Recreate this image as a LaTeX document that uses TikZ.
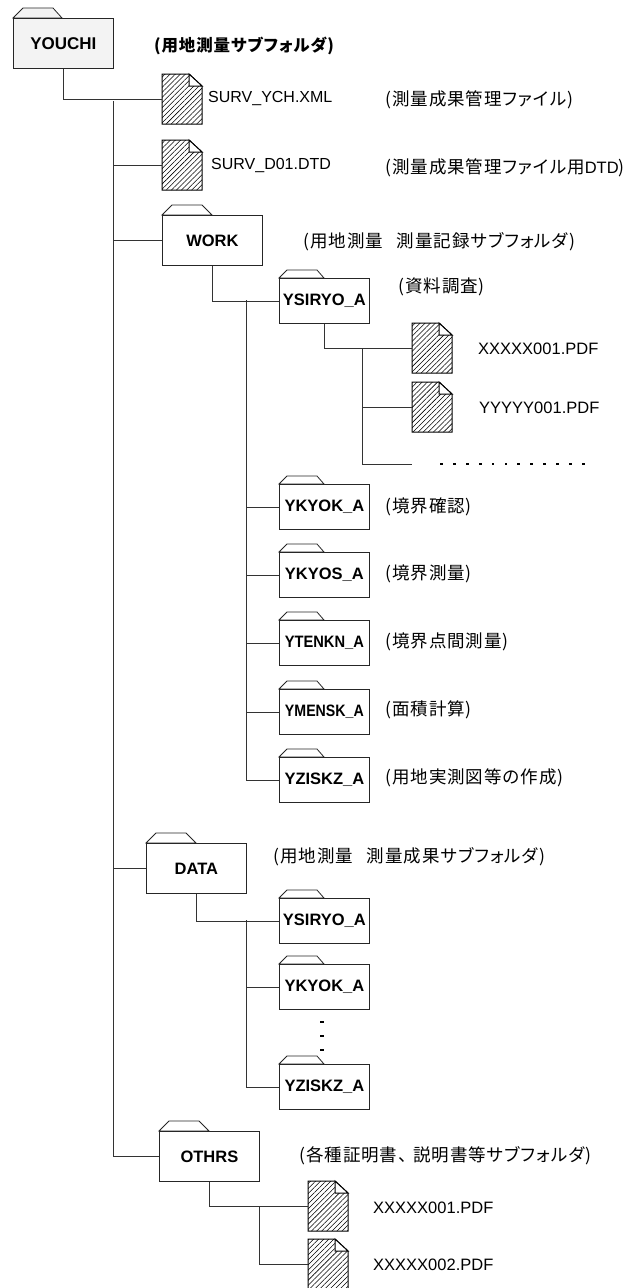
\documentclass[tikz,border=0pt]{standalone}
\usepackage{fontspec}
\setmainfont{Liberation Sans}
\newfontfamily\cjk[LetterSpace=5.5,RawFeature={+palt}]{Noto Sans CJK JP}
\newfontfamily\cjkb[LetterSpace=5,RawFeature={+palt}]{Noto Sans CJK JP}
\usetikzlibrary{patterns.meta,calc}
\tikzset{
  conn/.style={draw=black!80,line width=0.8pt},
  foldbig/.style={rectangle,draw=black!85,line width=0.8pt,fill=white,minimum width=100pt,minimum height=50pt,inner sep=0pt,anchor=north west,font=\fontsize{16.5}{18}\selectfont\bfseries},
  foldsmall/.style={foldbig,minimum width=90pt,minimum height=45pt},
  hatched/.style={pattern={Lines[angle=45,distance=3.6pt,line width=0.55pt]},pattern color=black},
  dotted fill/.style={pattern={Dots[distance=2pt,radius=0.4pt]},pattern color=black!55},
  outline/.style={draw=black!85,line width=0.8pt},
  fileline/.style={draw=black,line width=1pt},
  filebox/.style={rectangle,minimum width=40pt,minimum height=50pt,inner sep=0pt,anchor=north west},
  latin/.style={anchor=west,inner sep=0pt,font=\fontsize{16.5}{18}\selectfont},
  latins/.style={latin,font=\fontsize{16}{18}\selectfont},
  jp/.style={anchor=west,inner sep=0pt,font=\fontsize{17.5}{18}\selectfont\cjk},
  jpb/.style={jp,font=\fontsize{16.5}{18}\selectfont\cjkb\bfseries},
}
\newcommand{\bigfolder}[4]{%
  \draw[outline] (#3,#4) -- ++(10,-10) -- ++(30,0) -- ++(10,10) -- cycle;
  \node[foldbig] (#1) at (#3,#4) {#2};}
\newcommand{\smallfolder}[4]{%
  \draw[outline] (#3,#4) -- ++(8,-8) -- ++(30,0) -- ++(7,8) -- cycle;
  \node[foldsmall] (#1) at (#3,#4) {#2};}
\newcommand{\filenode}[3]{%
  \node[filebox] (#1) at (#2,#3) {};
  \path[hatched] (#1.north west) -- ++(27,0) -- ++(13,12) -- ++(0,38) -- ++(-40,0) -- cycle;
  \draw[fileline] (#1.north west) -- ++(27,0) -- ++(13,12) -- ++(0,38) -- ++(-40,0) -- cycle;
  \fill[white] ($(#1.north west)+(27,0)$) -- ++(0,12) -- ++(13,0) -- cycle;
  \draw[fileline] ($(#1.north west)+(27,0)$) -- ++(0,12) -- ++(13,0) -- cycle;}
\newcommand{\latinpart}[1]{{\fontsize{16.5}{18}\fontspec{Liberation Sans}#1}}
\begin{document}
\begin{tikzpicture}[x=1pt,y=-1pt]
\useasboundingbox (0,0) rectangle (627,1288);
% folders
\path[dotted fill] (13,18) -- (23,8) -- (53,8) -- (62,18) -- cycle;
\draw[outline] (13,18) -- (23,8) -- (53,8) -- (62,18) -- cycle;
\node[foldbig,fill=none,draw=none] (youchi) at (13,18) {};
\path[dotted fill] (youchi.north west) rectangle (youchi.south east);
\draw[outline] (youchi.north west) rectangle (youchi.south east);
\node[inner sep=0pt,font=\fontsize{17}{18}\selectfont\bfseries] (youchit) at (youchi.center) {YOUCHI};
\bigfolder{work}{WORK}{162}{215}
\bigfolder{data}{DATA}{146}{843}
\bigfolder{othrs}{OTHRS}{159}{1131}
\smallfolder{ys}{YSIRYO\_A}{279}{278}
\smallfolder{yk}{YKYOK\_A}{279}{484}
\smallfolder{yo}{YKYOS\_A}{279}{552}
\smallfolder{yt}{\scalebox{.89}[1]{YTENKN\_A}}{279}{620}
\smallfolder{ym}{\scalebox{.86}[1]{YMENSK\_A}}{279}{689}
\smallfolder{yz}{YZISKZ\_A}{279}{757}
\smallfolder{dys}{YSIRYO\_A}{279}{898}
\smallfolder{dyk}{YKYOK\_A}{279}{964}
\smallfolder{dyz}{YZISKZ\_A}{279}{1064}
% files
\filenode{f1}{162}{74}
\filenode{f2}{162}{140}
\filenode{f3}{412}{323}
\filenode{f4}{412}{382}
\filenode{f5}{308}{1181}
\filenode{f6}{308}{1239}
% connector anchors
\coordinate (t1) at (113,101);
\coordinate (t2) at (246,300);
\coordinate (t3) at (362,348);
\coordinate (t4) at (246,920);
\coordinate (t5) at (259,1206);
\coordinate (more) at (412,464);
% connectors
\draw[conn] (youchi.south) |- (f1.west);
\draw[conn] (t1) |- (othrs.west);
\draw[conn] (t1 |- f2.west) -- (f2.west);
\draw[conn] (t1 |- work.west) -- (work.west);
\draw[conn] (t1 |- data.west) -- (data.west);
\draw[conn] (work.south) |- (ys.west);
\draw[conn] (t2) |- (yz.west);
\draw[conn] (t2 |- yk.west) -- (yk.west);
\draw[conn] (t2 |- yo.west) -- (yo.west);
\draw[conn] (t2 |- yt.west) -- (yt.west);
\draw[conn] (t2 |- ym.west) -- (ym.west);
\draw[conn] (ys.south) |- (f3.west);
\draw[conn] (t3) |- (more);
\draw[conn] (t3 |- f4.west) -- (f4.west);
\draw[conn] (data.south) |- (dys.west);
\draw[conn] (t4) |- (dyz.west);
\draw[conn] (t4 |- dyk.west) -- (dyk.west);
\draw[conn] (othrs.south) |- (f5.west);
\draw[conn] (t5) |- (f6.west);
% dots
\foreach \i in {0,...,11} \fill (440+12.9*\i,462.6) rectangle ++(2.8,2.8);
\foreach \y in {1021,1035,1049} \fill (320,\y) rectangle ++(4,2);
% labels
\node[jpb] (l0) at (154,46) {(用地測量サブフォルダ)};
\node[latins] (l1) at (208,99) {SURV\_YCH.XML};
\node[latins] (l2) at (211,165) {SURV\_D01.DTD};
\node[jp] (l3) at (385,100) {(測量成果管理ファイル)};
\node[jp] (l4) at (385,168) {(測量成果管理ファイル用\latinpart{DTD})};
\node[jp] (l5) at (303,242) {(用地測量\hspace{14pt}測量記録サブフォルダ)};
\node[jp] (l6) at (398,287) {(資料調査)};
\node[latin] (l7) at (478,349) {XXXXX001.PDF};
\node[latin] (l8) at (479,408) {YYYYY001.PDF};
\node[jp] (l9) at (385,507) {(境界確認)};
\node[jp] (l10) at (385,574) {(境界測量)};
\node[jp] (l11) at (385,642) {(境界点間測量)};
\node[jp] (l12) at (385,710) {(面積計算)};
\node[jp] (l13) at (385,778) {(用地実測図等の作成)};
\node[jp] (l14) at (273,857) {(用地測量\hspace{14pt}測量成果サブフォルダ)};
\node[jp] (l15) at (299,1156) {(各種証明書、\hspace{6pt}説明書等サブフォルダ)};
\node[latin] (l16) at (373,1208) {XXXXX001.PDF};
\node[latin] (l17) at (373,1265) {XXXXX002.PDF};
\end{tikzpicture}
\end{document}
